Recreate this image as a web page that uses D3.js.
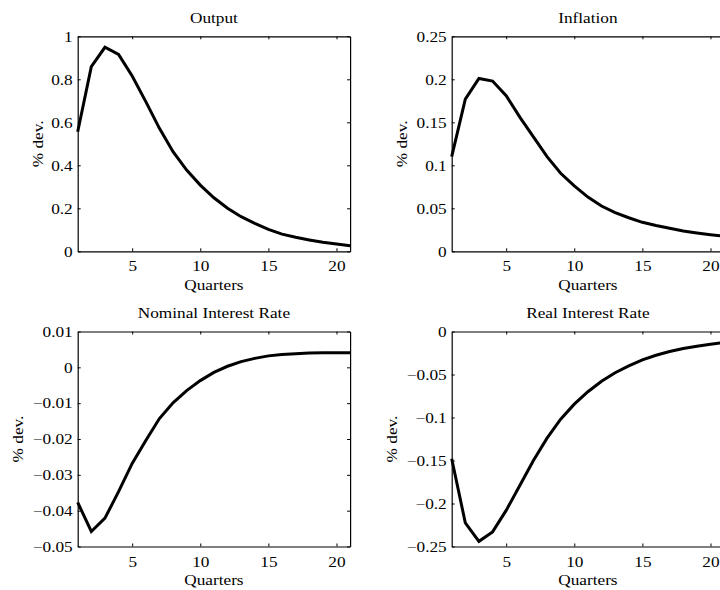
<!DOCTYPE html>
<html>
<head>
<meta charset="utf-8">
<script src="https://cdn.jsdelivr.net/npm/d3@7"></script>
<style>
  body { margin: 0; background: #fff; }
  svg { display: block; }
  text { font-family: "Liberation Serif", "Times New Roman", serif; fill: #000; }
</style>
</head>
<body>
<div id="chart"></div>
<script>
// quarters on the x axis
const quarters = [1, 2, 3, 4, 5, 6, 7, 8, 9, 10, 11, 12, 13, 14, 15, 16, 17, 18, 19, 20, 21];
const xTicks = [5, 10, 15, 20];

// impulse responses, % deviation
const output = [0.556, 0.859, 0.949, 0.916, 0.815, 0.696, 0.572, 0.463, 0.378, 0.308, 0.249,
  0.200, 0.161, 0.130, 0.102, 0.080, 0.065, 0.053, 0.042, 0.034, 0.026];
const inflation = [0.110, 0.177, 0.201, 0.198, 0.181, 0.156, 0.133, 0.110, 0.0907, 0.076, 0.063,
  0.0527, 0.045, 0.039, 0.0337, 0.030, 0.0267, 0.0236, 0.0213, 0.0193, 0.0174];
const nominalRate = [-0.0377, -0.0458, -0.0421, -0.0347, -0.0268, -0.0204, -0.0143, -0.0099, -0.0065,
  -0.0037, -0.0014, 0.0003, 0.0016, 0.0025, 0.0032, 0.0036, 0.0038, 0.0040, 0.0041, 0.0041, 0.0041];
const realRate = [-0.148, -0.2225, -0.244, -0.233, -0.208, -0.179, -0.150, -0.124, -0.102, -0.0845,
  -0.070, -0.0578, -0.048, -0.040, -0.033, -0.0276, -0.0233, -0.0198, -0.0171, -0.0148, -0.0128];

// y tick values for each panel
const outputTicks = [0, 0.2, 0.4, 0.6, 0.8, 1];
const inflationTicks = [0, 0.05, 0.1, 0.15, 0.2, 0.25];
const nominalTicks = [-0.05, -0.04, -0.03, -0.02, -0.01, 0, 0.01];
const realTicks = [-0.25, -0.2, -0.15, -0.1, -0.05, 0];

const titles = ["Output", "Inflation", "Nominal Interest Rate", "Real Interest Rate"];

const W = 720, H = 590;
const pw = 272.4, ph = 215;
const stretch = 1.15; // the serif font in the original is wide

const panels = [
  {title: titles[0], values: output, ticks: outputTicks, left: 77.7, top: 36.3, ylab: 34.7},
  {title: titles[1], values: inflation, ticks: inflationTicks, left: 451.7, top: 36.3, ylab: 45},
  {title: titles[2], values: nominalRate, ticks: nominalTicks, left: 77.7, top: 331.5, ylab: 54.7},
  {title: titles[3], values: realRate, ticks: realTicks, left: 451.7, top: 331.5, ylab: 55}
];

const fmt = d => (d < 0 ? "\u2212" : "") + String(Math.abs(d));

const svg = d3.select("#chart")
  .append("svg")
  .attr("width", W)
  .attr("height", H);

panels.forEach(p => {
  const g = svg.append("g")
    .attr("transform", `translate(${p.left},${p.top})`);

  const x = d3.scaleLinear().domain([1, 21]).range([0, pw]);
  const y = d3.scaleLinear()
    .domain([p.ticks[0], p.ticks[p.ticks.length - 1]])
    .range([ph, 0]);

  // bottom axis with labels
  g.append("g")
    .attr("transform", `translate(0,${ph})`)
    .call(d3.axisBottom(x).tickValues(xTicks).tickSizeInner(-3).tickSizeOuter(0).tickPadding(9.5).tickFormat(d3.format("d")));
  // left axis with labels
  g.append("g")
    .call(d3.axisLeft(y).tickValues(p.ticks).tickSizeInner(-3).tickSizeOuter(0).tickPadding(5 / stretch).tickFormat(fmt));
  // top and right: ticks only
  g.append("g")
    .call(d3.axisTop(x).tickValues(xTicks).tickSizeInner(-3).tickSizeOuter(0).tickFormat(""));
  g.append("g")
    .attr("transform", `translate(${pw},0)`)
    .call(d3.axisRight(y).tickValues(p.ticks).tickSizeInner(-3).tickSizeOuter(0).tickFormat(""));

  g.selectAll(".domain").attr("stroke", "#000").attr("stroke-width", 1.2);
  g.selectAll(".tick line").attr("stroke", "#000").attr("stroke-width", 1);
  g.selectAll(".tick text")
    .attr("font-size", 15)
    .attr("font-family", "Liberation Serif, serif")
    .attr("transform", `scale(${stretch},1)`);

  // curve
  g.append("path")
    .datum(quarters.map((q, i) => [q, p.values[i]]))
    .attr("fill", "none")
    .attr("stroke", "#000")
    .attr("stroke-width", 3)
    .attr("stroke-linejoin", "miter")
    .attr("d", d3.line().x(d => x(d[0])).y(d => y(d[1])));

  // title
  g.append("text")
    .attr("transform", `translate(${pw / 2},-13.8) scale(${stretch},1)`)
    .attr("text-anchor", "middle")
    .attr("font-size", 15)
    .text(p.title);

  // x label
  g.append("text")
    .attr("transform", `translate(${pw / 2},${ph + 38.2}) scale(${stretch},1)`)
    .attr("text-anchor", "middle")
    .attr("font-size", 15)
    .text("Quarters");

  // y label
  g.append("text")
    .attr("transform", `translate(${-p.ylab},${ph / 2}) rotate(-90) scale(${stretch},1)`)
    .attr("text-anchor", "middle")
    .attr("font-size", 15)
    .text("% dev.");
});
</script>
</body>
</html>
